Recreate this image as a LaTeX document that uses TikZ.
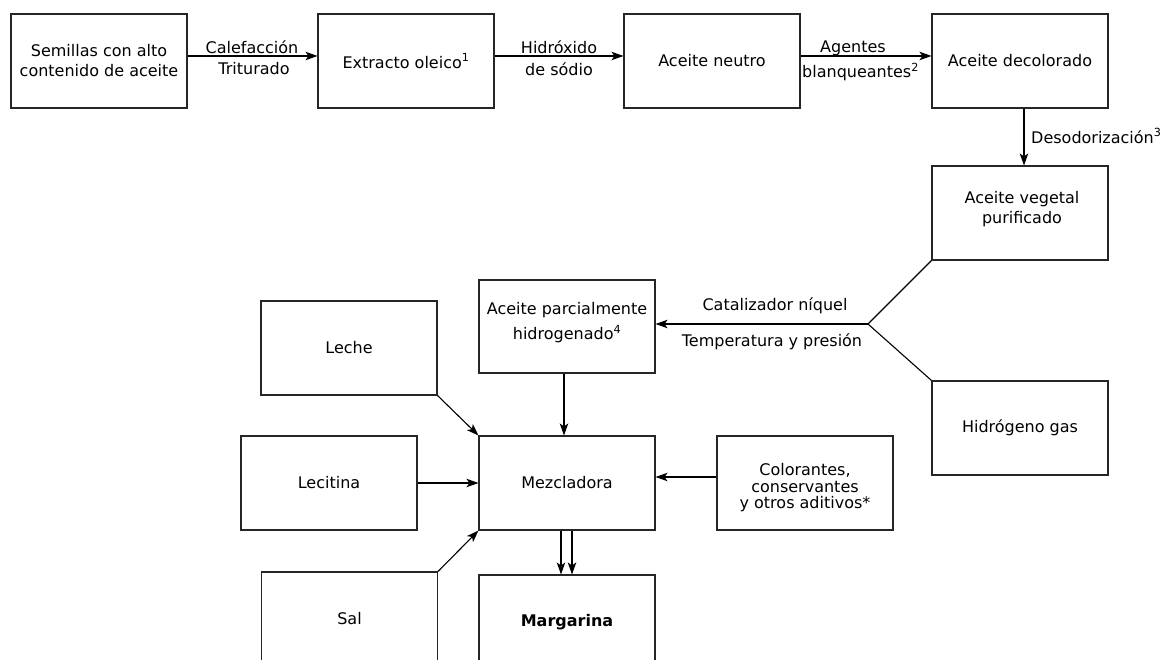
\documentclass[tikz,border=0pt]{standalone}
\usepackage{fontspec}
\setmainfont{DejaVu Sans}
\usetikzlibrary{arrows.meta,calc}
\begin{document}
\begin{tikzpicture}[x=1pt,y=-1pt,
  box/.style={draw=black!85,line width=1.1pt,minimum width=176pt,minimum height=94pt,inner sep=0pt,align=center,font=\fontsize{16}{20}\selectfont},
  lbl/.style={inner sep=0pt,align=center,font=\fontsize{16}{20}\selectfont},
  arr/.style={line width=1.1pt,-{Stealth[length=12pt,width=8.5pt,inset=3pt]}},
  ln/.style={line width=1.1pt}]
\useasboundingbox (0,0) rectangle (1167,660);
\clip (0,0) rectangle (1167,660);
% top row
\node[box] (b1) at (99,61) {Semillas con alto\\contenido de aceite};
\node[box] (b2) at (406,61) {Extracto oleico\textsuperscript{1}};
\node[box] (b3) at (712,61) {Aceite neutro};
\node[box] (b4) at (1020,61) {Aceite decolorado};
\node[box] (b5) at (1020,213) {};
\node[lbl] (b5t) at (1022,209) {Aceite vegetal\\purificado};
\node[box] (hid) at (1020,428) {Hidrógeno gas};
\node[box,minimum height=93pt] (parc) at (567,326.5) {};
\node[lbl,font=\fontsize{16}{25}\selectfont] (parct) at (567,323) {Aceite parcialmente\\hidrogenado\textsuperscript{4}};
\node[box] (leche) at (349,348) {Leche};
\node[box] (lec) at (329,483) {Lecitina};
\node[box] (mez) at (567,483) {Mezcladora};
\node[box] (col) at (805,483) {};
\node[lbl,font=\fontsize{16}{16.5}\selectfont] (colt) at (805,488) {Colorantes,\\conservantes\\y otros aditivos*};
\node[box] (sal) at (349.5,619) {Sal};
\node[box] (marg) at (567,622) {\bfseries Margarina};
% connectors
\draw[arr] ([yshift=5pt]b1.east) -- ([yshift=5pt]b2.west);
\draw[arr] ([yshift=5pt]b2.east) -- ([yshift=5pt]b3.west);
\draw[arr] ([yshift=5pt]b3.east) -- ([yshift=5pt]b4.west);
\draw[arr] ([xshift=4pt]b4.south) -- ([xshift=4pt]b5.north);
\coordinate (j) at (868,324);
\draw[ln] (b5.south west) -- (j);
\draw[ln] (hid.north west) -- (j);
\draw[arr] (j) -- (parc.east |- j);
\draw[arr] ([xshift=-3pt]parc.south) -- ([xshift=-3pt]mez.north);
\draw[arr] (leche.south east) -- (mez.north west);
\draw[arr] (lec.east) -- (mez.west);
\draw[arr] (sal.north east) -- (mez.south west);
\draw[arr] ([yshift=6pt]col.west) -- ([yshift=6pt]mez.east);
\draw[arr] ([xshift=-6pt]mez.south) -- ([xshift=-6pt]marg.north);
\draw[arr] ([xshift=5pt]mez.south) -- ([xshift=5pt]marg.north);
% labels
\node[lbl] (l1a) at (252,47) {Calefacción};
\node[lbl] (l1b) at (254,69) {Triturado};
\node[lbl] (l2a) at (559,47) {Hidróxido};
\node[lbl] (l2b) at (559,69) {de sódio};
\node[lbl,anchor=west] (l3a) at (820,48) {Agentes};
\node[lbl,anchor=west] (l3b) at (802,72) {blanqueantes\textsuperscript{2}};
\node[lbl,anchor=west] (l4) at (1031,136) {Desodorización\textsuperscript{3}};
\node[lbl] (l5a) at (775,306) {Catalizador níquel};
\node[lbl] (l5b) at (772,342) {Temperatura y presión};
\end{tikzpicture}
\end{document}
